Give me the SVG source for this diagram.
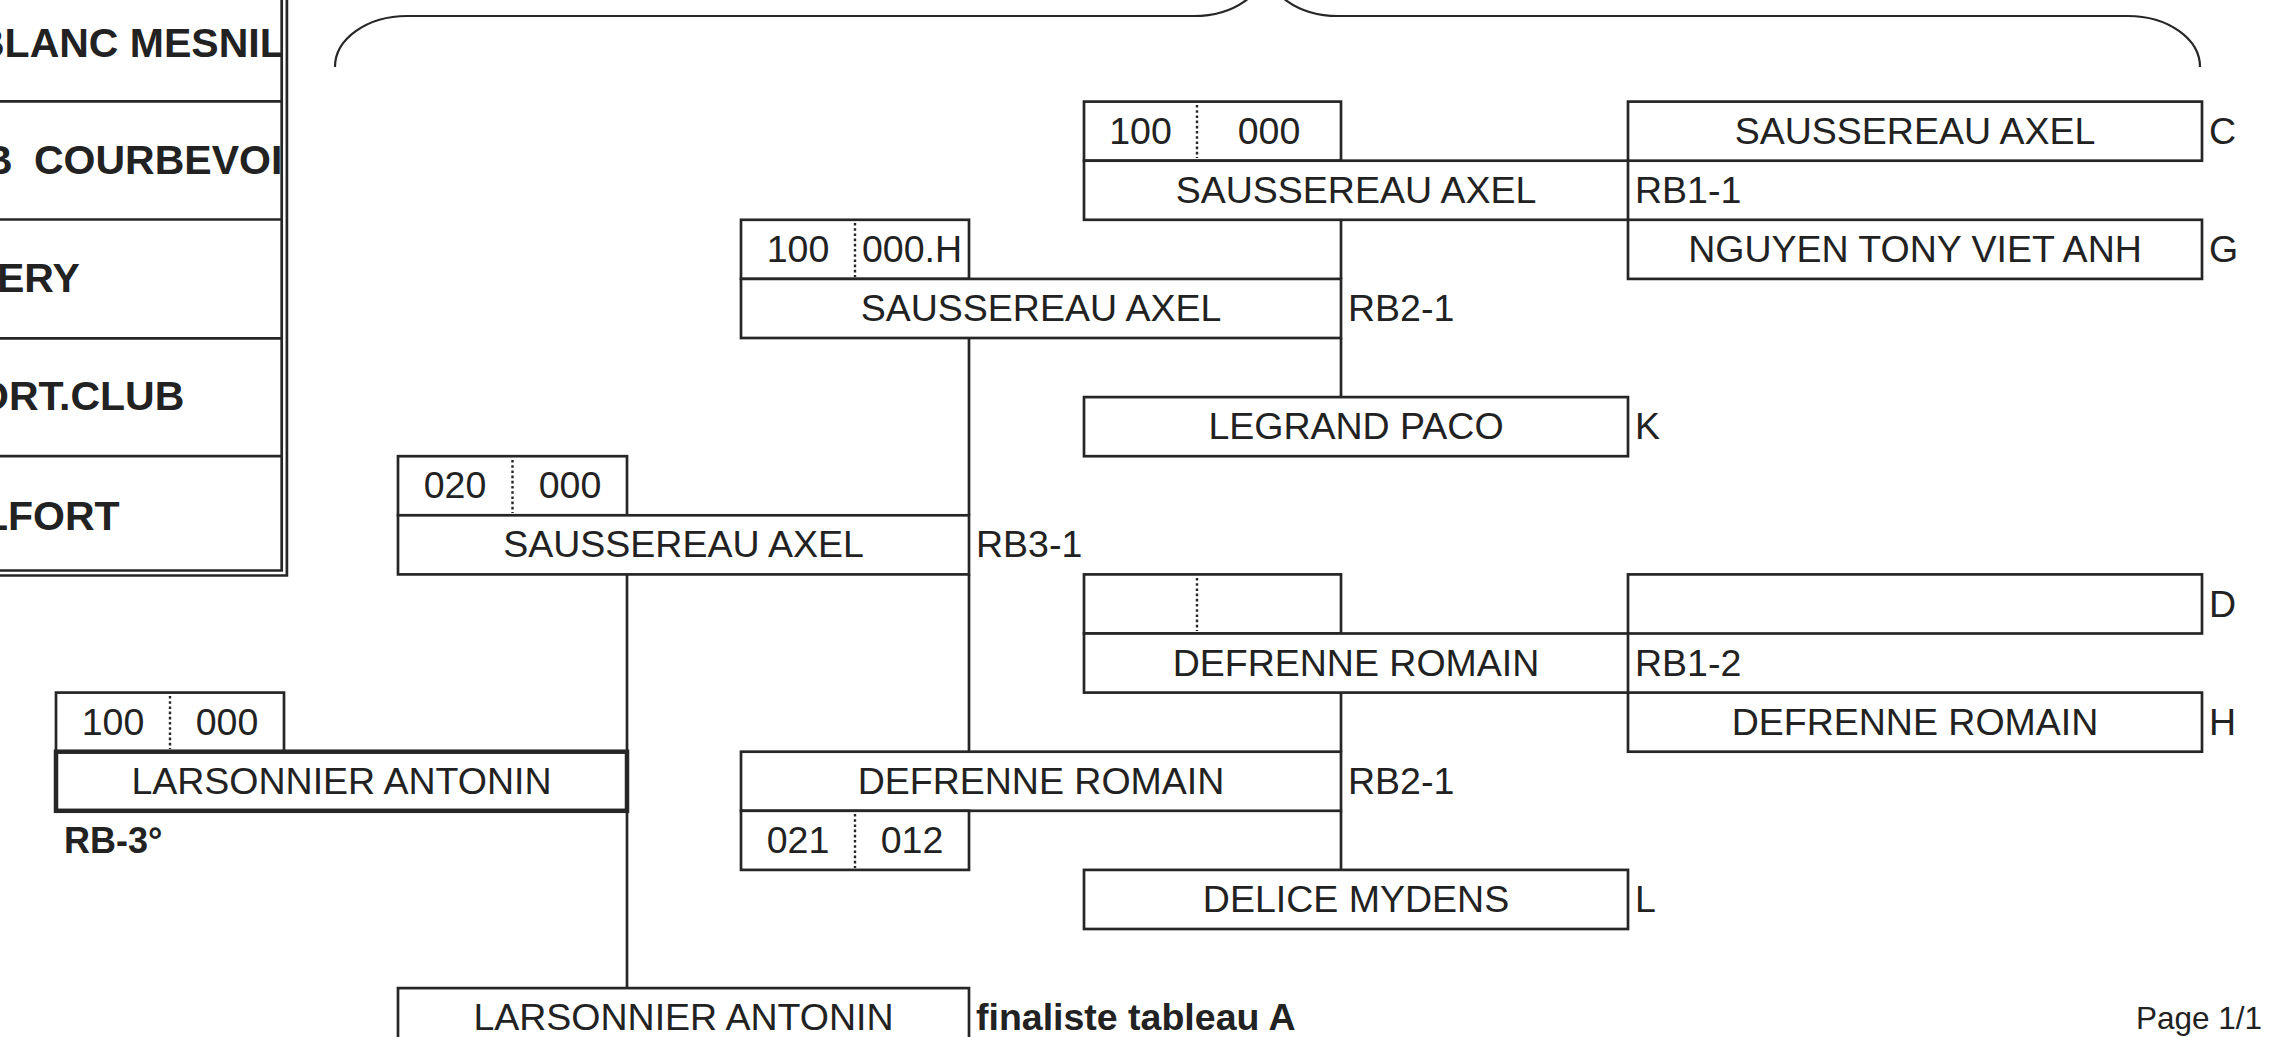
<svg xmlns="http://www.w3.org/2000/svg" width="2275" height="1037" viewBox="0 0 2275 1037">
<style>
.bx{fill:#fff;stroke:#262626;stroke-width:2.7}
.thk{fill:#fff;stroke:#262626;stroke-width:4.5}
.ln{stroke:#262626;stroke-width:2.7;fill:none}
.br{stroke:#262626;stroke-width:2.2;fill:none}
.dot{stroke:#262626;stroke-width:2.4;stroke-dasharray:2.6 2.6}
.t{font-family:"Liberation Sans",Arial,sans-serif;font-size:37.5px;fill:#222}
.c{text-anchor:middle}
.b{font-weight:bold}
.club{font-family:"Liberation Sans",Arial,sans-serif;font-size:41px;font-weight:bold;fill:#222}
</style>
<defs>
<clipPath id="tclip"><rect x="0" y="-20" width="281" height="595"/></clipPath>
</defs>
<rect x="0" y="0" width="2275" height="1037" fill="#fff"/>

<g id="club-table">
<g clip-path="url(#tclip)">
<text class="club" x="-25" y="57">BLANC MESNIL</text>
<text class="club" y="174"><tspan x="-17">B </tspan><tspan x="34">COURBEVOI</tspan></text>
<text class="club" x="-3" y="292">ERY</text>
<text class="club" x="-23" y="410">ORT.CLUB</text>
<text class="club" x="-17" y="530">LFORT</text>
</g>
<path class="ln" d="M-5,101.3H281.7M-5,219.5H281.7M-5,338.3H281.7M-5,456.2H281.7M-5,570.5H281.7V-5"/>
<path class="ln" d="M-5,575.5H286.9V-5"/>
</g>

<g id="brace">
<path class="br" d="M335,67 A72,51 0 0 1 407,16 L1194,16 A72,51 0 0 0 1266,-35 A72,51 0 0 0 1338,16 L2128,16 A72,51 0 0 1 2200,67"/>
</g>

<g id="connectors">
<path class="ln" d="M1341,219.8V278.9M1341,338V397.1"/>
<path class="ln" d="M969,338V515.3M969,574.4V751.7"/>
<path class="ln" d="M1341,692.6V751.7M1341,810.8V869.9"/>
<path class="ln" d="M627,574.4V751.7M627,810.8V988.1"/>
</g>

<g id="entry-C">
<rect class="bx" x="1628" y="101.6" width="574" height="59.1"/>
<text class="t c" x="1915" y="143.7">SAUSSEREAU AXEL</text>
<text class="t" x="2209" y="143.7">C</text>
</g>
<g id="entry-G">
<rect class="bx" x="1628" y="219.8" width="574" height="59.1"/>
<text class="t c" x="1915" y="261.9">NGUYEN TONY VIET ANH</text>
<text class="t" x="2209" y="261.9">G</text>
</g>
<g id="entry-D">
<rect class="bx" x="1628" y="574.4" width="574" height="59.1"/>
<text class="t" x="2209" y="616.5">D</text>
</g>
<g id="entry-H">
<rect class="bx" x="1628" y="692.6" width="574" height="59.1"/>
<text class="t c" x="1915" y="734.7">DEFRENNE ROMAIN</text>
<text class="t" x="2209" y="734.7">H</text>
</g>
<g id="entry-K">
<rect class="bx" x="1084" y="397.1" width="544" height="59.1"/>
<text class="t c" x="1356" y="439.2">LEGRAND PACO</text>
<text class="t" x="1635" y="439.2">K</text>
</g>
<g id="entry-L">
<rect class="bx" x="1084" y="869.9" width="544" height="59.1"/>
<text class="t c" x="1356" y="912">DELICE MYDENS</text>
<text class="t" x="1635" y="912">L</text>
</g>

<g id="match-RB1-1">
<rect class="bx" x="1084" y="101.6" width="257" height="59.1"/>
<line class="dot" x1="1197" y1="105" x2="1197" y2="158"/>
<text class="t c" x="1140.5" y="143.7">100</text>
<text class="t c" x="1269" y="143.7">000</text>
<rect class="bx" x="1084" y="160.7" width="544" height="59.1"/>
<text class="t c" x="1356" y="202.8">SAUSSEREAU AXEL</text>
<text class="t" x="1635" y="202.8">RB1-1</text>
</g>

<g id="match-RB1-2">
<rect class="bx" x="1084" y="574.4" width="257" height="59.1"/>
<line class="dot" x1="1197" y1="578" x2="1197" y2="631"/>
<rect class="bx" x="1084" y="633.5" width="544" height="59.1"/>
<text class="t c" x="1356" y="675.6">DEFRENNE ROMAIN</text>
<text class="t" x="1635" y="675.6">RB1-2</text>
</g>

<g id="match-RB2-1-top">
<rect class="bx" x="741" y="219.8" width="228" height="59.1"/>
<line class="dot" x1="855" y1="223" x2="855" y2="277"/>
<text class="t c" x="798" y="261.9">100</text>
<text class="t c" x="912" y="261.9">000.H</text>
<rect class="bx" x="741" y="278.9" width="600" height="59.1"/>
<text class="t c" x="1041" y="321">SAUSSEREAU AXEL</text>
<text class="t" x="1348" y="321">RB2-1</text>
</g>

<g id="match-RB2-1-bottom">
<rect class="bx" x="741" y="751.7" width="600" height="59.1"/>
<text class="t c" x="1041" y="793.8">DEFRENNE ROMAIN</text>
<text class="t" x="1348" y="793.8">RB2-1</text>
<rect class="bx" x="741" y="810.8" width="228" height="59.1"/>
<line class="dot" x1="855" y1="814" x2="855" y2="868"/>
<text class="t c" x="798" y="852.9">021</text>
<text class="t c" x="912" y="852.9">012</text>
</g>

<g id="match-RB3-1">
<rect class="bx" x="398" y="456.2" width="229" height="59.1"/>
<line class="dot" x1="512.5" y1="460" x2="512.5" y2="513"/>
<text class="t c" x="455" y="498.3">020</text>
<text class="t c" x="570" y="498.3">000</text>
<rect class="bx" x="398" y="515.3" width="571" height="59.1"/>
<text class="t c" x="683.5" y="557.4">SAUSSEREAU AXEL</text>
<text class="t" x="976" y="557.4">RB3-1</text>
</g>

<g id="match-RB-3">
<rect class="bx" x="56" y="692.6" width="228" height="59.1"/>
<line class="dot" x1="170" y1="696" x2="170" y2="749"/>
<text class="t c" x="113" y="734.7">100</text>
<text class="t c" x="227" y="734.7">000</text>
<rect class="thk" x="56" y="751.7" width="571" height="59.1"/>
<text class="t c" x="341.5" y="793.8">LARSONNIER ANTONIN</text>
<text class="t b" x="64" y="853" style="font-size:36px">RB-3°</text>
</g>

<g id="final">
<rect class="bx" x="398" y="988.1" width="571" height="70"/>
<text class="t c" x="683.5" y="1030.2">LARSONNIER ANTONIN</text>
<text class="t b" x="976" y="1030.2">finaliste tableau A</text>
</g>

<g id="footer">
<text class="t" x="2262" y="1029" style="font-size:31.5px;text-anchor:end">Page 1/1</text>
</g>
</svg>
